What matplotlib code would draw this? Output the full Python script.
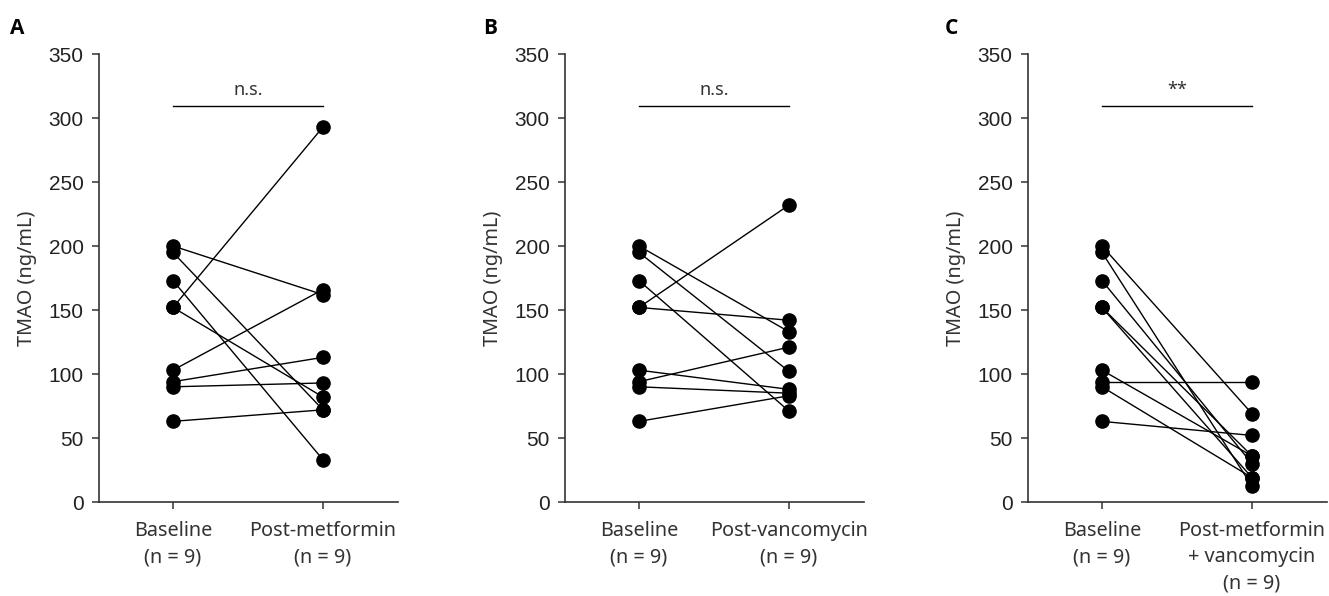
import matplotlib
matplotlib.use("Agg")
import matplotlib.pyplot as plt

# shared baseline TMAO values (ng/mL), same 9 subjects in every panel
baseline = [200, 195, 173, 152, 152, 103, 94, 90, 63]

# follow-up values, paired in the same order as baseline
post_metformin = [162, 72, 33, 293, 82, 166, 113, 93, 72]
post_vancomycin = [133, 102, 71, 232, 142, 88, 121, 85, 83]
post_combined = [69, 12.5, 30, 36, 19, 36, 94, 19, 52]

panel_letters = ["A", "B", "C"]
xlabels = [
    ["Baseline\n(n = 9)", "Post-metformin\n(n = 9)"],
    ["Baseline\n(n = 9)", "Post-vancomycin\n(n = 9)"],
    ["Baseline\n(n = 9)", "Post-metformin\n+ vancomycin\n(n = 9)"],
]
sig_labels = ["n.s.", "n.s.", "**"]
yticks = [0, 50, 100, 150, 200, 250, 300, 350]

W, H = 1329, 596
fig = plt.figure(figsize=(W / 100, H / 100), dpi=100)

lefts = [99, 565, 1028]
letter_x = [10, 483, 945]
posts = [post_metformin, post_vancomycin, post_combined]

text_font = ["Noto Sans", "DejaVu Sans"]
num_font = ["Liberation Sans", "DejaVu Sans"]

for i in range(3):
    ax = fig.add_axes([lefts[i] / W, 1 - 502 / H, 299 / W, 448 / H])
    for b, p in zip(baseline, posts[i]):
        ax.plot([0, 1], [b, p], color="black", lw=1.0, zorder=2)
    ax.plot([0] * len(baseline), baseline, "o", color="black", ms=9.5, zorder=3)
    ax.plot([1] * len(posts[i]), posts[i], "o", color="black", ms=9.5, zorder=3)

    ax.set_xlim(-0.493, 1.5)
    ax.set_ylim(0, 350)
    ax.set_yticks(yticks)
    ax.set_yticklabels([str(t) for t in yticks], family=num_font, fontsize=15,
                       color="#222222")
    ax.set_xticks([0, 1])
    ax.set_xticklabels(xlabels[i], family=text_font, fontsize=14.3,
                       color="#333333", linespacing=1.4)
    ax.tick_params(axis="y", length=5, width=1.1, pad=6, color="#333333")
    ax.tick_params(axis="x", length=5, width=1.1, pad=9, color="#333333")
    for s in ["top", "right"]:
        ax.spines[s].set_visible(False)
    for s in ["left", "bottom"]:
        ax.spines[s].set_linewidth(1.2)
        ax.spines[s].set_color("#333333")
    ax.spines["bottom"].set_clip_on(False)
    ax.set_ylabel("TMAO (ng/mL)", family=text_font, fontsize=14.3,
                  color="#333333", labelpad=8)

    # significance bracket
    ax.plot([0, 1], [309, 309], color="black", lw=1.0, clip_on=False)
    ax.text(0.5, 315, sig_labels[i], ha="center", va="bottom",
            family=text_font, fontsize=13, color="#333333")

    fig.text(letter_x[i] / W, 1 - 28 / H, panel_letters[i], ha="left",
             va="center", fontsize=15, fontweight="bold",
             family=["Open Sans", "DejaVu Sans"])

fig.savefig("out.png", dpi=100)
